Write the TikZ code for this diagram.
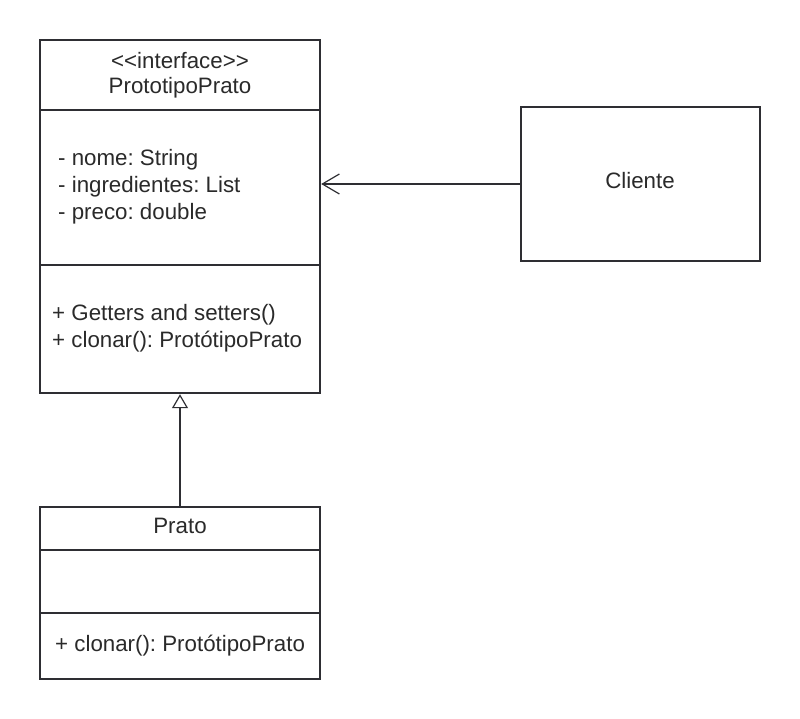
\documentclass[tikz,border=0pt]{standalone}
\usepackage{fontspec}
\setmainfont{Liberation Sans}
\usetikzlibrary{arrows.meta}
\definecolor{ink}{HTML}{2E2E33}
\definecolor{txt}{HTML}{2A2A2A}
\frenchspacing
\begin{document}
\begin{tikzpicture}[x=1pt,y=-1pt,
  umlbox/.style={draw=ink, line width=2.4pt, inner sep=0pt, fill=white},
  divider/.style={draw=ink, line width=2.4pt},
  lbl/.style={inner sep=0pt, text=txt, font=\fontsize{22.3}{26}\selectfont},
  conn/.style={draw=ink, line width=1.2pt}]
\useasboundingbox (0,0) rectangle (800,719);
% Interface box
\node[umlbox, minimum width=280pt, minimum height=353pt] (iface) at (180,216.5) {};
\draw[divider] (40,110) -- (320,110);
\draw[divider] (40,265) -- (320,265);
\node[lbl] (stereo) at (180,61) {<{}<interface>{}>};
\node[lbl] (ifname) at (180,88) {PrototipoPrato};
\node[lbl, anchor=west] (a1) at (58,159.5) {- nome: String};
\node[lbl, anchor=west] (a2) at (58,186.5) {- ingredientes: List};
\node[lbl, anchor=west] (a3) at (58,213.5) {- preco: double};
\node[lbl, anchor=west] (m1) at (52,314.5) {+ Getters and setters()};
\node[lbl, anchor=west] (m2) at (52,341.5) {+ clonar(): ProtótipoPrato};
% Cliente
\node[umlbox, minimum width=239pt, minimum height=154pt] (cli) at (640.5,184) {};
\node[lbl] (cliname) at (640,181) {Cliente};
% Prato
\node[umlbox, minimum width=280pt, minimum height=172pt] (prato) at (180,593) {};
\draw[divider] (40,550) -- (320,550);
\draw[divider] (40,613) -- (320,613);
\node[lbl] (pname) at (180,525.5) {Prato};
\node[lbl, anchor=west] (pm1) at (55,645.5) {+ clonar(): ProtótipoPrato};
% connectors
\draw[conn, -{Straight Barb[length=17pt,width=20pt,line width=1.2pt]}] (cli.west) -- (cli.west -| iface.east);
\draw[conn, -{Triangle[open,length=14pt,width=16pt,line width=1.2pt]}] (prato.north) -- (iface.south);
\end{tikzpicture}
\end{document}
